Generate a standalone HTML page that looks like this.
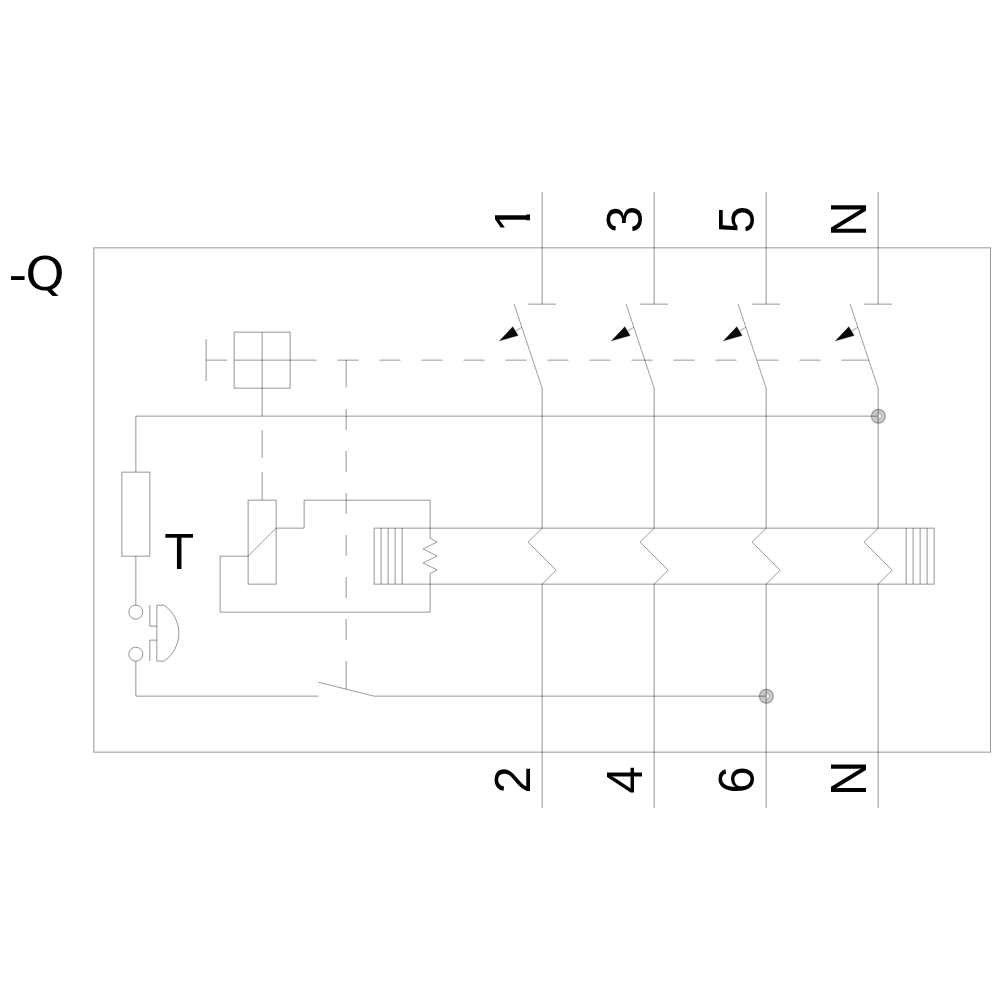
<!DOCTYPE html>
<html lang="en">
<head>
<meta charset="utf-8">
<title>-Q circuit diagram</title>
<style>
html,body{margin:0;padding:0;background:#fff;}
body{width:1000px;height:1000px;overflow:hidden;}
svg{display:block;}
.w line,.w rect,.w polyline,.w path,.w circle{fill:none;stroke:#000;stroke-width:1;stroke-opacity:0.41;stroke-linecap:butt;stroke-linejoin:miter;}
.w .ah{fill:#0a0a0a;stroke:#0a0a0a;stroke-width:0.4;stroke-opacity:1;}
.w .dg{stroke-opacity:0.39;}
.w .jf{fill:#000;fill-opacity:0.18;stroke:none;}
.w .jr{fill:none;stroke:#000;stroke-opacity:0.24;stroke-width:1.5;}
.w .jr2{fill:none;stroke:#000;stroke-opacity:0.09;stroke-width:1.5;}
.w .jc{fill:#fff;stroke:none;}
.t{opacity:0.999;}
.dq{font-family:"DejaVu Sans","Liberation Sans",sans-serif;font-size:46.9px;}
text{font-family:"Liberation Sans",sans-serif;font-size:50px;fill:#000;}
</style>
</head>
<body>
<svg width="1000" height="1000" viewBox="0 0 1000 1000">
<rect x="0" y="0" width="1000" height="1000" fill="#fff"/>
<g class="w">
<rect x="93.83" y="247.83" width="896.67" height="504.32"/>
<line x1="542.14" y1="192.15" x2="542.14" y2="304.15"/>
<line x1="528.14" y1="304.15" x2="556.14" y2="304.15"/>
<line x1="514.14" y1="304.15" x2="542.14" y2="388.15" class="dg"/>
<line x1="542.14" y1="388.15" x2="542.14" y2="528.15"/>
<polyline points="542.14,528.15 528.14,542.15 556.14,570.15 542.14,584.15" class="dg"/>
<line x1="542.14" y1="584.15" x2="542.14" y2="808.15"/>
<line x1="521.84" y1="327.25" x2="515.42" y2="331.14" class="dg"/>
<polygon class="ah" points="499.6,340.72 512.78,326.77 518.07,335.5"/>
<line x1="654.14" y1="192.15" x2="654.14" y2="304.15"/>
<line x1="640.14" y1="304.15" x2="668.14" y2="304.15"/>
<line x1="626.14" y1="304.15" x2="654.14" y2="388.15" class="dg"/>
<line x1="654.14" y1="388.15" x2="654.14" y2="528.15"/>
<polyline points="654.14,528.15 640.14,542.15 668.14,570.15 654.14,584.15" class="dg"/>
<line x1="654.14" y1="584.15" x2="654.14" y2="808.15"/>
<line x1="633.84" y1="327.25" x2="627.42" y2="331.14" class="dg"/>
<polygon class="ah" points="611.6,340.72 624.78,326.77 630.07,335.5"/>
<line x1="766.14" y1="192.15" x2="766.14" y2="304.15"/>
<line x1="752.14" y1="304.15" x2="780.14" y2="304.15"/>
<line x1="738.14" y1="304.15" x2="766.14" y2="388.15" class="dg"/>
<line x1="766.14" y1="388.15" x2="766.14" y2="528.15"/>
<polyline points="766.14,528.15 752.14,542.15 780.14,570.15 766.14,584.15" class="dg"/>
<line x1="766.14" y1="584.15" x2="766.14" y2="808.15"/>
<line x1="745.84" y1="327.25" x2="739.42" y2="331.14" class="dg"/>
<polygon class="ah" points="723.6,340.72 736.78,326.77 742.07,335.5"/>
<line x1="878.14" y1="192.15" x2="878.14" y2="304.15"/>
<line x1="864.14" y1="304.15" x2="892.14" y2="304.15"/>
<line x1="850.14" y1="304.15" x2="878.14" y2="388.15" class="dg"/>
<line x1="878.14" y1="388.15" x2="878.14" y2="528.15"/>
<polyline points="878.14,528.15 864.14,542.15 892.14,570.15 878.14,584.15" class="dg"/>
<line x1="878.14" y1="584.15" x2="878.14" y2="808.15"/>
<line x1="857.84" y1="327.25" x2="851.42" y2="331.14" class="dg"/>
<polygon class="ah" points="835.6,340.72 848.78,326.77 854.07,335.5"/>
<rect x="374.14" y="528.15" width="560.0" height="56.0"/>
<line x1="381.14" y1="528.15" x2="381.14" y2="584.15"/>
<line x1="388.14" y1="528.15" x2="388.14" y2="584.15"/>
<line x1="395.14" y1="528.15" x2="395.14" y2="584.15"/>
<line x1="402.14" y1="528.15" x2="402.14" y2="584.15"/>
<line x1="906.14" y1="528.15" x2="906.14" y2="584.15"/>
<line x1="913.14" y1="528.15" x2="913.14" y2="584.15"/>
<line x1="920.14" y1="528.15" x2="920.14" y2="584.15"/>
<line x1="927.14" y1="528.15" x2="927.14" y2="584.15"/>
<line x1="135.83" y1="416.15" x2="878.14" y2="416.15"/>
<line x1="135.83" y1="416.15" x2="135.83" y2="472.15"/>
<rect x="121.83" y="472.15" width="28.0" height="84.0"/>
<line x1="135.83" y1="556.15" x2="135.83" y2="605.15"/>
<circle cx="135.83" cy="612.15" r="7"/>
<circle cx="135.83" cy="654.15" r="7"/>
<line x1="135.83" y1="661.15" x2="135.83" y2="696.15"/>
<line x1="135.83" y1="696.15" x2="318.14" y2="696.15"/>
<polyline points="149.83,605.15 149.83,626.15 156.83,626.15"/>
<polyline points="149.83,661.15 149.83,640.15 156.83,640.15"/>
<path d="M163.83,605.15 H156.83 V661.15 H163.83 A33.6,33.6 0 0 0 163.83,605.15"/>
<line x1="318.14" y1="682.15" x2="374.14" y2="696.15" class="dg"/>
<line x1="374.14" y1="696.15" x2="766.14" y2="696.15"/>
<rect x="234.14" y="332.15" width="56.0" height="56.0"/>
<line x1="262.14" y1="332.15" x2="262.14" y2="416.15"/>
<line x1="234.14" y1="360.15" x2="290.14" y2="360.15"/>
<line x1="206.14" y1="339.15" x2="206.14" y2="381.15"/>
<line x1="206.14" y1="360.15" x2="227.14" y2="360.15"/>
<line x1="290.14" y1="360.15" x2="316.7" y2="360.15"/>
<line x1="337.5" y1="360.15" x2="358.5" y2="360.15"/>
<line x1="379.5" y1="360.15" x2="400.5" y2="360.15"/>
<line x1="421.5" y1="360.15" x2="442.5" y2="360.15"/>
<line x1="463.5" y1="360.15" x2="484.5" y2="360.15"/>
<line x1="505.5" y1="360.15" x2="526.5" y2="360.15"/>
<line x1="547.5" y1="360.15" x2="568.5" y2="360.15"/>
<line x1="589.5" y1="360.15" x2="610.5" y2="360.15"/>
<line x1="631.5" y1="360.15" x2="652.5" y2="360.15"/>
<line x1="673.5" y1="360.15" x2="694.5" y2="360.15"/>
<line x1="715.5" y1="360.15" x2="736.5" y2="360.15"/>
<line x1="757.5" y1="360.15" x2="778.5" y2="360.15"/>
<line x1="799.5" y1="360.15" x2="820.5" y2="360.15"/>
<line x1="841.5" y1="360.15" x2="868.81" y2="360.15"/>
<line x1="346.14" y1="360.15" x2="346.14" y2="387.5"/>
<line x1="346.14" y1="409" x2="346.14" y2="430"/>
<line x1="346.14" y1="451" x2="346.14" y2="472"/>
<line x1="346.14" y1="493" x2="346.14" y2="514"/>
<line x1="346.14" y1="535" x2="346.14" y2="556"/>
<line x1="346.14" y1="577" x2="346.14" y2="598"/>
<line x1="346.14" y1="619" x2="346.14" y2="640"/>
<line x1="346.14" y1="661" x2="346.14" y2="689.15"/>
<line x1="262.14" y1="430" x2="262.14" y2="458"/>
<line x1="262.14" y1="472" x2="262.14" y2="500.15"/>
<rect x="248.14" y="500.15" width="28.0" height="84.0"/>
<line x1="248.14" y1="556.15" x2="276.14" y2="528.15" class="dg"/>
<polyline points="276.14,528.15 304.14,528.15 304.14,500.15 430.14,500.15 430.14,538.44"/>
<polyline points="430.14,538.44 437.14,541.94 423.14,548.94 437.14,555.94 423.14,562.94 437.14,569.94 430.14,573.44" class="dg"/>
<polyline points="430.14,573.44 430.14,612.15 220.14,612.15 220.14,556.15 248.14,556.15"/>
<circle class="jf" cx="878.36" cy="416.2" r="7.5"/>
<circle class="jr" cx="878.36" cy="416.2" r="6.8"/>
<circle class="jr2" cx="878.36" cy="416.2" r="3.6"/>
<ellipse class="jc" cx="879.51" cy="416.2" rx="0.9" ry="1.3"/>
<circle class="jf" cx="766.36" cy="696.2" r="7.5"/>
<circle class="jr" cx="766.36" cy="696.2" r="6.8"/>
<circle class="jr2" cx="766.36" cy="696.2" r="3.6"/>
<ellipse class="jc" cx="767.51" cy="696.2" rx="0.9" ry="1.3"/>
</g>
<defs><clipPath id="c1"><path d="M0,-40 H28 V-4.7 H17.6 V1 H12 V-4.7 H0 Z"/></clipPath></defs>
<g class="t">
<text x="8.6" y="290.6"><tspan textLength="18.6" lengthAdjust="spacingAndGlyphs">-</tspan><tspan class="dq" dx="-1.9" dy="-0.9" textLength="39.5" lengthAdjust="spacingAndGlyphs">Q</tspan></text>
<text transform="translate(164.15,568.5) scale(0.98,1)">T</text>
<text clip-path="url(#c1)" transform="translate(530.04,232.2) rotate(-90)">1</text>
<text transform="translate(642.04,233.0) rotate(-90) scale(0.98,1)">3</text>
<text transform="translate(754.04,233.3) rotate(-90) scale(0.98,1)">5</text>
<text transform="translate(866.04,236.65) rotate(-90) scale(0.98,1)">N</text>
<text transform="translate(530.04,793.4) rotate(-90) scale(0.98,1)">2</text>
<text transform="translate(642.04,793.5) rotate(-90) scale(0.98,1)">4</text>
<text transform="translate(754.04,793.6) rotate(-90) scale(0.98,1)">6</text>
<text transform="translate(866.04,795.95) rotate(-90) scale(0.98,1)">N</text>
</g>
</svg>
</body>
</html>
